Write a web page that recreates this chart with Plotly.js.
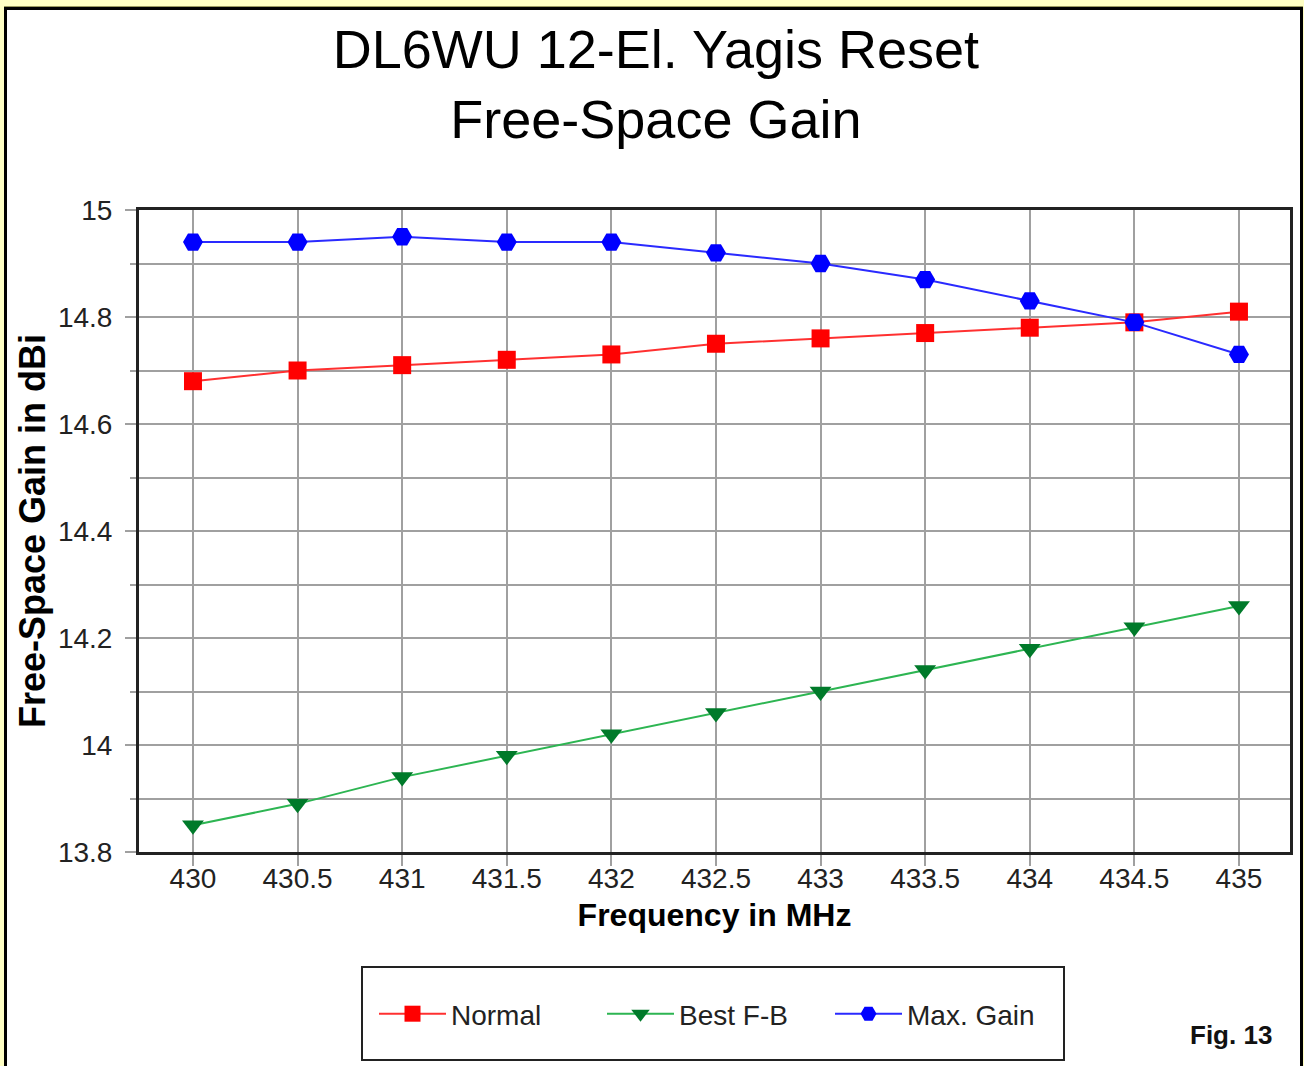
<!DOCTYPE html>
<html>
<head>
<meta charset="utf-8">
<script src="https://cdn.plot.ly/plotly-3.0.1.min.js"></script>
<style>
  html, body { margin:0; padding:0; width:1304px; height:1066px; overflow:hidden; background:#FFFFC4; }
  #frame { position:absolute; left:4px; top:7px; width:1293px; height:1100px; background:#FFFFFF;
           border:3px solid #000; border-bottom:none; box-shadow:0 -1px 0 #9a9a60; }
  #chart { position:absolute; left:0; top:0; width:1304px; height:1066px; }
</style>
</head>
<body>
<div id="frame"></div>
<div id="chart"></div>
<script>
// Data
const freq = [430, 430.5, 431, 431.5, 432, 432.5, 433, 433.5, 434, 434.5, 435];
const normalGain = [14.68, 14.70, 14.71, 14.72, 14.73, 14.75, 14.76, 14.77, 14.78, 14.79, 14.81];
const bestFBGain = [13.85, 13.89, 13.94, 13.98, 14.02, 14.06, 14.10, 14.14, 14.18, 14.22, 14.26];
const maxGain    = [14.94, 14.94, 14.95, 14.94, 14.94, 14.92, 14.90, 14.87, 14.83, 14.79, 14.73];
const seriesNames = ["Normal", "Best F-B", "Max. Gain"];

const FONT = "Liberation Sans, Arial, sans-serif";

const traces = [
  { x: freq, y: normalGain, name: seriesNames[0], type: "scatter", mode: "lines+markers",
    line: { color: "#FF3030", width: 2 },
    marker: { symbol: "square", size: 18, color: "#FF0000" } },
  { x: freq, y: bestFBGain, name: seriesNames[1], type: "scatter", mode: "lines+markers",
    line: { color: "#2DB552", width: 2 },
    marker: { symbol: "triangle-down", size: 19, color: "#007A2A" } },
  { x: freq, y: maxGain, name: seriesNames[2], type: "scatter", mode: "lines+markers",
    line: { color: "#2A2AFF", width: 2 },
    marker: { symbol: "hexagon2", size: 20, color: "#0000FF" } }
];

const plotL = 139, plotR = 1290, plotT = 210, plotB = 852;
const W = 1304, H = 1066;
const pw = plotR - plotL, ph = plotB - plotT;
const px = v => (v - plotL) / pw;
const py = v => (plotB - v) / ph;

const layout = {
  width: W, height: H,
  paper_bgcolor: "rgba(0,0,0,0)",
  plot_bgcolor: "#FFFFFF",
  margin: { l: plotL, r: W - plotR, t: plotT, b: H - plotB, pad: 0 },
  font: { family: FONT, color: "#222" },
  title: {
    text: "DL6WU 12-El. Yagis Reset<br>Free-Space Gain",
    font: { family: FONT, size: 54, color: "#000" },
    x: 0.503, xanchor: "center",
    y: 1 - 68 / H, yanchor: "top", yref: "container"
  },
  xaxis: {
    range: [429.742, 435.244],
    dtick: 0.5, tick0: 430,
    showgrid: true, gridcolor: "#A0A0A0", gridwidth: 2,
    zeroline: false,
    showline: true, linecolor: "#222", linewidth: 3, mirror: true,
    ticks: "outside", ticklen: 11, tickwidth: 2, tickcolor: "#A0A0A0",
    ticklabelstandoff: -12,
    tickfont: { family: FONT, size: 28, color: "#222" },
    title: { text: "<b>Frequency in MHz</b>", font: { family: FONT, size: 32, color: "#000" }, standoff: 12 }
  },
  yaxis: {
    range: [13.8, 15],
    dtick: 0.2, tick0: 13.8,
    showgrid: true, gridcolor: "#A0A0A0", gridwidth: 2,
    zeroline: false,
    showline: true, linecolor: "#222", linewidth: 3, mirror: true,
    ticks: "outside", ticklen: 11, tickwidth: 2, tickcolor: "#A0A0A0",
    ticklabelstandoff: 7,
    tickfont: { family: FONT, size: 28, color: "#222" },
    minor: { dtick: 0.1, showgrid: true, gridcolor: "#A0A0A0", gridwidth: 2,
             ticks: "outside", ticklen: 6, tickwidth: 2, tickcolor: "#A0A0A0" },
    title: { text: "<b>Free-Space Gain in dBi</b>", font: { family: FONT, size: 36, color: "#000" }, standoff: 2 }
  },
  showlegend: true,
  legend: {
    orientation: "h",
    x: px(716), xanchor: "center",
    y: py(1014), yanchor: "middle",
    bgcolor: "rgba(0,0,0,0)",
    borderwidth: 0,
    itemwidth: 67,
    entrywidth: 146,
    font: { family: FONT, size: 28, color: "#222" }
  },
  shapes: [
    { type: "rect", xref: "paper", yref: "paper",
      x0: px(362), x1: px(1064), y0: py(1060), y1: py(967),
      line: { color: "#222", width: 2 }, fillcolor: "rgba(0,0,0,0)" }
  ],
  annotations: [
    { text: "<b>Fig. 13</b>", xref: "paper", yref: "paper",
      x: px(1231), y: py(1035), xanchor: "center", yanchor: "middle",
      showarrow: false, font: { family: FONT, size: 26, color: "#111" } }
  ]
};

Plotly.newPlot("chart", traces, layout, { displayModeBar: false, staticPlot: true });
</script>
</body>
</html>
